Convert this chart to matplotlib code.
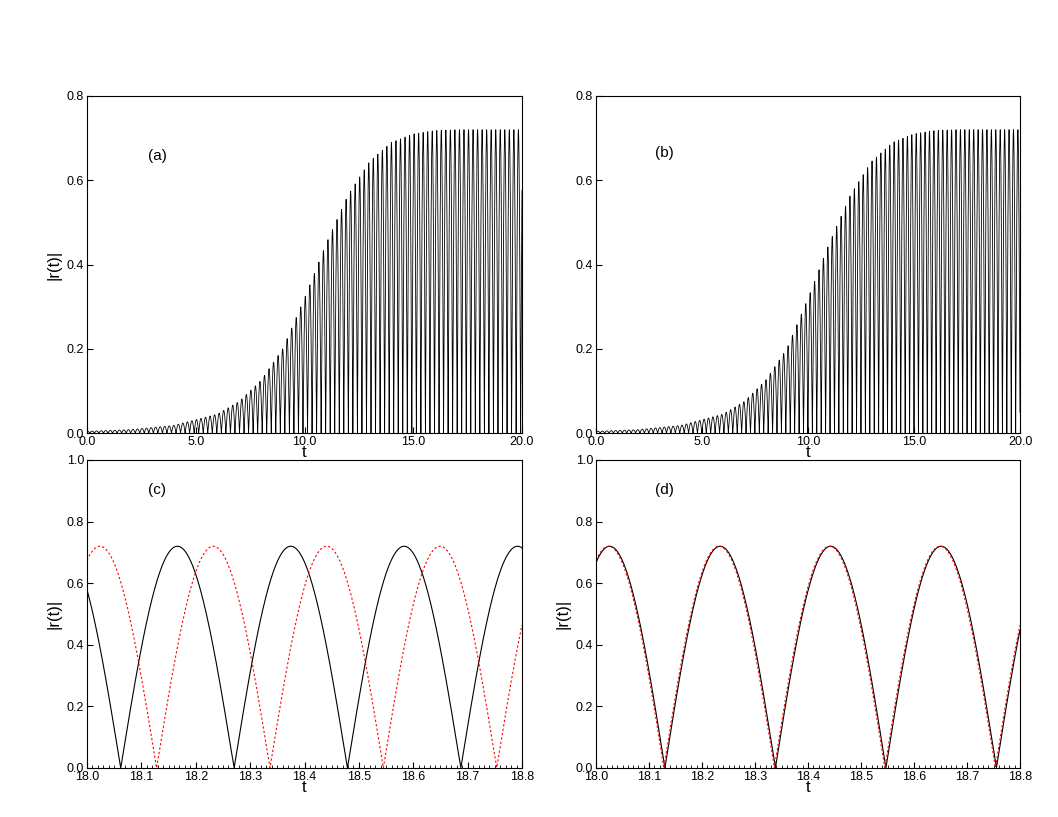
import numpy as np
import matplotlib
matplotlib.use("Agg")
import matplotlib.pyplot as plt
from matplotlib.ticker import MultipleLocator, FormatStrFormatter

plt.rcParams['font.family'] = ['Liberation Sans', 'DejaVu Sans']

# envelope knots
env_t = [0, 2, 4, 6, 7, 8, 9, 10, 11, 12, 13, 14, 15, 16, 17, 20]
env_a = [0.004, 0.008, 0.018, 0.045, 0.075, 0.125, 0.20, 0.32, 0.45, 0.565, 0.645, 0.69, 0.71, 0.718, 0.72, 0.72]
period = 0.2085        # spacing of zeros of |r(t)|
zero_black = 18.062    # first zero in panel (c), solid curve
zero_red = 18.128      # first zero, dotted curve

def r(t, t0):
    return np.interp(t, env_t, env_a) * np.abs(np.sin(np.pi * (t - t0) / period))

fig = plt.figure(figsize=(10.58, 8.17), dpi=100)
W, H = 1058, 817
def ax_at(x0, x1, y0, y1):
    return fig.add_axes([x0 / W, 1 - y1 / H, (x1 - x0) / W, (y1 - y0) / H])

axa = ax_at(87, 522, 96, 433)
axb = ax_at(596, 1020, 96, 433)
axc = ax_at(87, 522, 460, 768)
axd = ax_at(596, 1020, 460, 768)

tl = np.linspace(0, 20, 40001)
axa.plot(tl, r(tl, zero_black), color='black', lw=0.6)
axb.plot(tl, r(tl, zero_red), color='black', lw=0.6)
ts = np.linspace(18.0, 18.8, 4001)
axc.plot(ts, r(ts, zero_black), color='black', lw=0.8)
axc.plot(ts, r(ts, zero_red), color='red', lw=0.8, ls=(0, (2, 2)))
axd.plot(ts, r(ts, zero_red + 0.002), color='black', lw=0.8)
axd.plot(ts, r(ts, zero_red), color='red', lw=0.8, ls=(0, (2, 2)))

for ax, lab, ly in [(axa, '(a)', 0.81), (axb, '(b)', 0.82)]:
    ax.set_xlim(0, 20); ax.set_ylim(0, 0.8)
    ax.xaxis.set_major_locator(MultipleLocator(5))
    ax.xaxis.set_major_formatter(FormatStrFormatter('%.1f'))
    ax.yaxis.set_major_locator(MultipleLocator(0.2))
    ax.yaxis.set_major_formatter(FormatStrFormatter('%.1f'))
    ax.text(0.14, ly, lab, transform=ax.transAxes, fontsize=11)
for ax, lab in [(axc, '(c)'), (axd, '(d)')]:
    ax.set_xlim(18.0, 18.8); ax.set_ylim(0, 1.0)
    ax.xaxis.set_major_locator(MultipleLocator(0.1))
    ax.xaxis.set_minor_locator(MultipleLocator(0.01))
    ax.xaxis.set_major_formatter(FormatStrFormatter('%.1f'))
    ax.yaxis.set_major_locator(MultipleLocator(0.2))
    ax.yaxis.set_major_formatter(FormatStrFormatter('%.1f'))
    ax.text(0.14, 0.89, lab, transform=ax.transAxes, fontsize=11)
for ax in [axa, axb, axc, axd]:
    ax.tick_params(direction='in', labelsize=9, length=4, pad=2)
    ax.tick_params(which='minor', direction='in', length=2.5)
    ax.set_xlabel('t', fontsize=12, labelpad=-2)
for ax in [axa, axc, axd]:
    ax.set_ylabel('|r(t)|', fontsize=12)

fig.savefig('out.png', dpi=100)
